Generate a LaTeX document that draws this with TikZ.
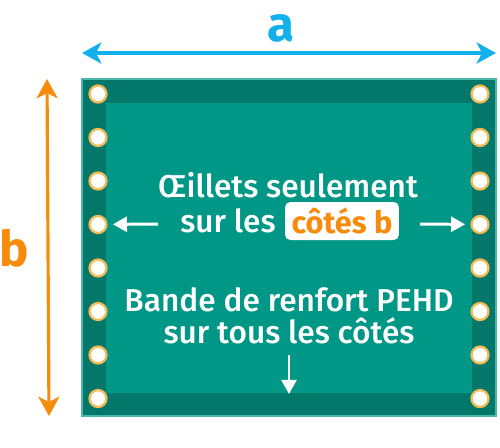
\documentclass[tikz,border=0pt]{standalone}
\usepackage{fontspec}
\setmainfont{Fira Sans}[UprightFont=* Medium, BoldFont=* Bold]
\usepackage{xcolor}
\usetikzlibrary{arrows.meta,positioning}

\definecolor{bandteal}{HTML}{03786A}
\definecolor{panelteal}{HTML}{009786}
\definecolor{dimblue}{HTML}{12B0EC}
\definecolor{dimorange}{HTML}{F78C0C}
\definecolor{ringgold}{HTML}{F5BA52}

\begin{document}
\begin{tikzpicture}[
    x=0.02cm, y=-0.02cm,
    band/.style={fill=bandteal, draw=panelteal!70!white, line width=0.6pt},
    panel/.style={fill=panelteal, draw=none},
    grommet/.style={circle, fill=white, draw=ringgold, line width=1.3pt, inner sep=0pt, minimum size=0.34cm},
    dimlabel/.style={font=\fontsize{28}{30}\selectfont\bfseries, inner sep=0pt},
    msg/.style={text=white, align=center, font=\fontsize{18}{18}\selectfont, inner sep=0pt},
    tag/.style={fill=white, rounded corners=3pt, text=dimorange, font=\fontsize{17.5}{19}\selectfont\bfseries, minimum width=2.28cm, minimum height=0.76cm, inner sep=0pt},
    dimarrow/.style={{Stealth[length=11pt, width=12pt, inset=3pt]}-{Stealth[length=11pt, width=12pt, inset=3pt]}, line width=1.8pt},
    ptr/.style={-{Triangle[length=8pt, width=8.5pt]}, draw=white, line width=1.7pt}
]
    \useasboundingbox (0,0) rectangle (500,447);

    % Tarp
    \draw[band] (82,79) rectangle (496,416);
    \fill[panel] (106,103) rectangle (472,393);

    % Grommets on the b sides
    \foreach \i in {0,...,7} {
        \node[grommet] (gl\i) at (98, 94+43.5*\i) {};
        \node[grommet] (gr\i) at (480, 94+43.5*\i) {};
    }

    % Dimensions
    \coordinate (aleft) at (82,53);
    \coordinate (aright) at (496,53);
    \coordinate (btop) at (47,79);
    \coordinate (bbot) at (49,416);
    \draw[dimarrow, draw=dimblue] (aleft) -- (aright);
    \draw[dimarrow, draw=dimorange] (btop) -- (bbot);
    \node[dimlabel, text=dimblue] (alabel) at (281,28) {a};
    \node[dimlabel, text=dimorange] (blabel) at (14,248) {b};

    % Messages
    \node[msg] (eyelets) at (288,185) {Œillets seulement};
    \node[tag] (sides) at (342,221) {côtés b};
    \node[msg, left=5pt of sides] (surles) {sur les};
    \node[msg] (reinforce) at (289,316) {Bande de renfort PEHD\\sur tous les côtés};
    \coordinate (leftstart) at (158,224);
    \coordinate (rightstart) at (420,224);
    \coordinate (downstart) at (289,355);
    \coordinate (downend) at (289,394);
    \draw[ptr, shorten >=3pt] (leftstart) -- (gl3);
    \draw[ptr, shorten >=3pt] (rightstart) -- (gr3);
    \draw[ptr] (downstart) -- (downend);

\end{tikzpicture}
\end{document}
